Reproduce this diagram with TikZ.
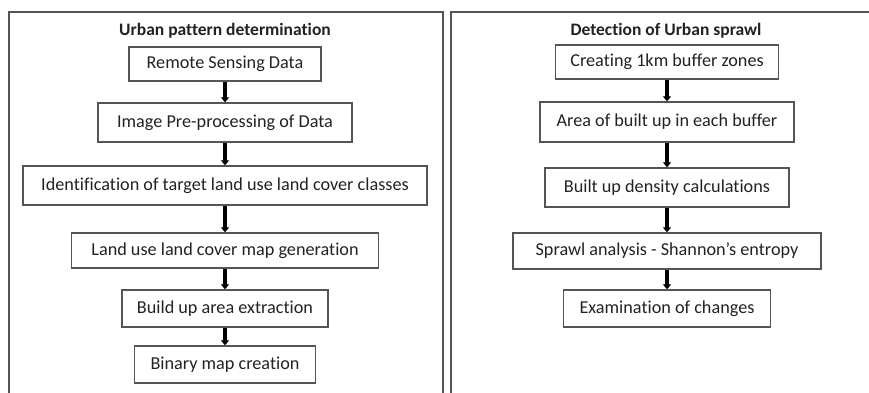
\documentclass[tikz,border=0pt]{standalone}
\usepackage{fontspec}
\setmainfont{Carlito}[Ligatures=NoCommon]
\usepackage{tikz}
\usetikzlibrary{positioning,arrows.meta}
\definecolor{Ink}{HTML}{222222}
\definecolor{Frame}{HTML}{555555}

\begin{document}
\begin{tikzpicture}[x=1pt,y=-1pt,
  every node/.style={font=\fontsize{18.2}{21}\selectfont,text=Ink},
  stepbox/.style={draw=Frame,line width=1.3pt,minimum height=36pt,inner sep=2pt},
  heading/.style={font=\fontsize{17.5}{21}\selectfont\bfseries},
  flow/.style={-{Triangle[width=8pt,length=5pt]},line width=3.8pt,black}]
  \useasboundingbox (0,0) rectangle (869,392);
  \clip (0,0) rectangle (869,392);
  % panels
  \draw[Frame,line width=1.3pt] (9,12) rectangle (443,400);
  \draw[Frame,line width=1.3pt] (451,12) rectangle (880,400);
  % left: urban pattern
  \node[heading] (ltitle) at (225,31) {Urban pattern determination};
  \node[stepbox,minimum width=192pt,minimum height=34pt] (l1) at (225,64) {Remote Sensing Data};
  \node[stepbox,minimum width=254pt,minimum height=39pt] (l2) at (225,122.5) {Image Pre-processing of Data};
  \node[stepbox,minimum width=404pt,minimum height=39pt] (l3) at (225,185.5) {Identification of target land use land cover classes};
  \node[stepbox,minimum width=307pt,minimum height=35pt] (l4) at (225,250.5) {Land use land cover map generation};
  \node[stepbox,minimum width=206pt,minimum height=37pt] (l5) at (225,308.5) {Build up area extraction};
  \node[stepbox,minimum width=181pt,minimum height=37pt] (l6) at (225,364.5) {Binary map creation};
  \foreach \a/\b in {l1/l2,l2/l3,l3/l4,l4/l5,l5/l6}
    \draw[flow] (\a) -- (\b);
  % right: urban sprawl
  \node[heading] (rtitle) at (666,31) {Detection of Urban sprawl};
  \node[stepbox,minimum width=223pt,minimum height=34pt] (r1) at (667,62) {Creating 1km buffer zones};
  \node[stepbox,minimum width=254pt,minimum height=40pt] (r2) at (667,122) {Area of built up in each buffer};
  \node[stepbox,minimum width=244pt,minimum height=39pt] (r3) at (667,187.5) {Built up density calculations};
  \node[stepbox,minimum width=308pt,minimum height=36pt] (r4) at (667,251) {Sprawl analysis - Shannon’s entropy};
  \node[stepbox,minimum width=207pt,minimum height=37pt] (r5) at (667,308.5) {Examination of changes};
  \foreach \a/\b in {r1/r2,r2/r3,r3/r4,r4/r5}
    \draw[flow] (\a) -- (\b);
\end{tikzpicture}
\end{document}
